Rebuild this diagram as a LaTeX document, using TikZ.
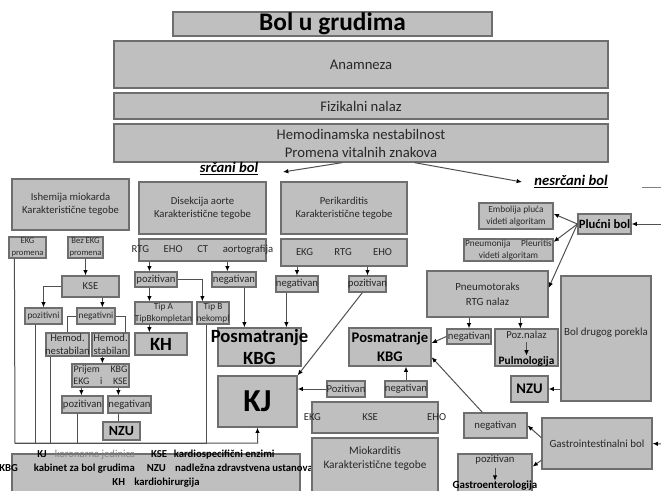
\documentclass[tikz,border=0pt]{standalone}
\usepackage{fontspec}
\setmainfont{Carlito}
\usepackage{tikz}
\usetikzlibrary{arrows.meta,calc,positioning}
\definecolor{boxfill}{RGB}{191,191,191}
\definecolor{boxedge}{RGB}{110,110,110}
\definecolor{linegray}{RGB}{80,80,80}
\definecolor{txtgray}{RGB}{40,40,40}
\tikzset{every picture/.style={line width=0.75pt}}

\begin{document}
\begin{tikzpicture}[x=0.75pt,y=0.75pt,yscale=-1,xscale=1,
  box/.style={draw=boxedge,fill=boxfill,line width=0.9pt,inner sep=0pt,align=center,text=txtgray},
  wh/.style 2 args={minimum width=#1*0.75pt,minimum height=#2*0.75pt},
  txt/.style={inner sep=0pt,align=center,text=txtgray},
  fs/.style={font=\fontsize{7}{9}\selectfont},
  fm/.style={font=\fontsize{8}{9.75}\selectfont},
  fl/.style={font=\fontsize{11}{13.5}\selectfont},
  ln/.style={draw=linegray},
  arr/.style={draw=linegray,-{Latex[length=4pt,width=3.4pt,color=black]}}
]
\useasboundingbox (0,0) rectangle (661,490);

%Shape: Rectangle
\node[box,wh={319}{24},text=black,font=\fontsize{19}{22}\selectfont\bfseries] (title) at (332.5,24) {Bol u grudima};
\node[box,wh={494}{47},fl] (anam) at (361,64.5) {Anamneza};
\node[box,wh={494}{26},fl] (fiz) at (361,106) {Fizikalni nalaz};
\node[box,wh={494}{38},fl] (hemo) at (361,143) {Hemodinamska nestabilnost\\Promena vitalnih znakova};

% Text Node
\node[txt,text=black,font=\fontsize{11}{13}\selectfont\bfseries\itshape] (srcani) at (229,169) {\underline{srčani bol}};
\node[txt,text=black,font=\fontsize{11}{13}\selectfont\bfseries\itshape] (nesrcani) at (571,182) {\underline{nesrčani bol}};

%Shape: Rectangle -- ishemija
\node[box,wh={117}{51},fm] (ishem) at (70.5,204.5) {Ishemija miokarda\\Karakteristične tegobe};
\node[box,wh={37}{21},font=\fontsize{6.5}{8.5}\selectfont] (ekgp) at (27.5,247.5) {EKG\\promena};
\node[box,wh={35}{21},font=\fontsize{6.5}{8.5}\selectfont] (bezekg) at (85.5,247.5) {Bez EKG\\promena};
\node[box,wh={57}{21},fm] (kse) at (90.5,286.5) {KSE};
\node[box,wh={37}{16},fs] (pozni) at (43.5,316) {pozitivni};
\node[box,wh={38}{16},fs] (negni) at (96,316) {negativni};
\node[box,wh={43}{23},fm] (hnest) at (67.5,344.5) {Hemod.\\\makebox[0pt]{nestabilan}};
\node[box,wh={37}{23},fm] (hstab) at (110.5,344.5) {Hemod.\\stabilan};
\node[box,wh={57}{23},font=\fontsize{7.5}{9}\selectfont] (prijem) at (100.5,375.5) {Prijem\hspace{8pt}KBG\\EKG\hspace{8pt}i\hspace{8pt}KSE};
\node[box,wh={41}{17},fm] (pozp) at (82.5,404.5) {pozitivan};
\node[box,wh={43}{17},fm] (negp) at (129.5,404.5) {\makebox[0pt]{negativan}};
\node[box,wh={37}{18},text=black,font=\fontsize{10.5}{12}\selectfont\bfseries] (nzul) at (121.5,431) {NZU};

%Shape: Rectangle -- disekcija
\node[box,wh={127}{52},fm] (disek) at (202.5,208) {Disekcija aorte\\Karakteristične tegobe};
\node[box,wh={127}{22},fm] (dsub) at (202.5,250) {\makebox[0pt]{RTG\hspace{11pt}EHO\hspace{11pt}CT\hspace{11pt}aortografija}};
\node[box,wh={42}{15},fm] (dpoz) at (156,279.5) {pozitivan};
\node[box,wh={44}{15},fm] (dneg) at (234,279.5) {negativan};
\node[box,wh={32}{22},fs] (tipb) at (213,313) {Tip B\\\makebox[0pt]{nekompl}};
\node[box,wh={57}{22},fs] (tipa) at (163.5,313) {Tip A\\\makebox[0pt]{TipBkompletan}};
\node[box,wh={52}{22},text=black,font=\fontsize{14}{16}\selectfont\bfseries] (kh) at (161,344) {KH};
\node[box,wh={83}{38},text=black,font=\fontsize{14}{16.5}\selectfont\bfseries] (posl) at (259.5,347) {\makebox[0pt]{Posmatranje}\\KBG};
\node[box,wh={79}{51},text=black,font=\fontsize{24}{26}\selectfont\bfseries] (kj) at (257.5,401.5) {KJ};

%Shape: Rectangle -- perikarditis
\node[box,wh={126}{52},fm] (perik) at (344,208) {Perikarditis\\Karakteristične tegobe};
\node[box,wh={126}{27},fm] (psub) at (344,252.5) {EKG\hspace{16pt}RTG\hspace{16pt}EHO};
\node[box,wh={42}{16},fm] (pneg) at (297,284) {\makebox[0pt]{negativan}};
\node[box,wh={37}{16},fm] (ppoz) at (367.5,284) {\makebox[0pt]{pozitivan}};
\node[box,wh={82}{38},text=black,font=\fontsize{11}{14}\selectfont\bfseries] (posm) at (390,347) {Posmatranje\\KBG};
\node[box,wh={38}{16},fm] (mpoz) at (346,389) {\makebox[0pt]{Pozitivan}};
\node[box,wh={42}{16},fm] (mneg) at (406,389) {\makebox[0pt]{negativan}};
\node[box,wh={126}{31},fm] (eks) at (375,417.5) {\makebox[0pt]{EKG\hspace{31pt}KSE\hspace{37pt}EHO}};

%Shape: Rectangle -- legenda
\node[box,wh={288}{46}] (legend) at (156,477) {};
\node[txt,text=black,font=\fontsize{8}{10.5}\selectfont\bfseries] (legtxt) at (156,469) {\makebox[0pt]{KJ\hspace{6pt}{\mdseries\color{gray}koronarna jedinica}\hspace{12pt}KSE\hspace{5pt}kardiospecifični enzimi}\\
  \makebox[0pt]{KBG\hspace{12pt}kabinet za bol grudima\hspace{9pt}NZU\hspace{7pt}nadležna zdravstvena ustanova}\\
  \makebox[0pt]{KH\hspace{7pt}kardiohirurgija}};
\node[box,wh={126}{62}] (miok) at (375,469) {};
\node[txt,font=\fontsize{8.5}{10.5}\selectfont] (mioktxt) at (375,459) {Miokarditis\\Karakteristične tegobe};

%Shape: Rectangle -- nesrcani bol
\node[box,wh={53}{20},text=black,font=\fontsize{9.5}{11}\selectfont\bfseries] (plucni) at (604.5,224) {Plućni bol};
\node[box,wh={74}{26},fs] (embol) at (516,216) {Embolija pluća\\videti algoritam};
\node[box,wh={89}{22},fs] (pneum) at (508.5,250) {Pneumonija\hspace{8pt}Pleuritis\\videti algoritam};
\node[box,wh={121}{46},font=\fontsize{8.2}{11}\selectfont] (pntor) at (487.5,294) {Pneumotoraks\\RTG nalaz};
\node[box,wh={90}{125}] (bdp) at (606,338.5) {};
\node[txt,font=\fontsize{8.2}{10}\selectfont] (bdptxt) at (606,333) {Bol drugog porekla};
\node[box,wh={44}{15},fm] (ptneg) at (469,336.5) {\makebox[0pt]{negativan}};
\node[box,wh={63}{37}] (poznal) at (526.5,347.5) {};
\node[txt,fm] (pozt) at (526.5,335) {Poz.nalaz};
\node[txt,text=black,font=\fontsize{8.5}{10}\selectfont\bfseries] (pulmt) at (526.5,361) {Pulmologija};
\node[box,wh={37}{26},text=black,font=\fontsize{11}{13}\selectfont\bfseries] (nzur) at (529.5,389) {NZU};
\node[box,wh={110}{51},font=\fontsize{8.2}{10}\selectfont] (gast) at (597,443.5) {Gastrointestinalni bol};
\node[box,wh={63}{25},fm] (gneg) at (495.5,425.5) {negativan};
\node[box,wh={74}{46}] (gpoz) at (495,477) {};
\node[txt,fm] (gpozt) at (495,460) {pozitivan};
\node[txt,text=black,font=\fontsize{8.2}{10}\selectfont\bfseries] (gastrot) at (495,486) {Gastroenterologija};

%Straight Lines -- grananje
\coordinate (srcArr) at (283,172);
\coordinate (nesArr) at (522,182);
\coordinate (stubA) at (642,187);
\coordinate (stubB) at (661,187);
\draw[arr] ($(hemo.south west)+(229,0)$) -- (srcArr);
\draw[arr] ($(hemo.south west)+(301,0)$) -- (nesArr);
\draw[ln,draw=gray] (stubA) -- (stubB);

%Straight Lines -- ishemija
\draw[arr] (bezekg.south) -- (bezekg.south |- kse.north);
\draw[arr] (kse.west) -| (pozni.north);
\draw[arr] ($(kse.south west)+(41,0)$) -- ($(negni.north west)+(26,0)$);
\draw[ln] (negni.west) -| (hnest.north);
\draw[ln] (negni.east) -| ($(hstab.north east)+(-4,0)$);
\draw[arr] ($(hstab.south west)+(11,0)$) -- ($(prijem.north west)+(31,0)$);
\draw[arr] ($(prijem.south west)+(10,0)$) -- ($(pozp.north west)+(20,0)$);
\draw[arr] ($(prijem.south west)+(47,0)$) -- ($(negp.north west)+(11,0)$);
\draw[ln] ($(negp.south west)+(11,0)$) -- ($(nzul.north west)+(16,0)$);

%Straight Lines -- sabirna linija prema KJ
\coordinate (busL) at (15,443);
\draw[arr] ($(ekgp.south west)+(6,0)$) -- (busL) -| (kj.south);
\draw[ln] ($(pozni.south west)+(11,0)$) |- (busL);
\draw[ln] ($(hnest.south west)+(5,0)$) |- (busL);
\draw[ln] ($(pozp.south west)+(16,0)$) |- (busL);
\draw[ln] ($(tipb.south west)+(10,0)$) |- (busL);

%Straight Lines -- disekcija
\draw[arr] ($(dsub.south west)+(11,0)$) -- ($(dpoz.north west)+(15,0)$);
\draw[arr] ($(dsub.south west)+(89,0)$) -- ($(dneg.north west)+(16,0)$);
\draw[arr] ($(dpoz.south west)+(15,0)$) -- ($(tipa.north west)+(15,0)$);
\draw[arr] (dpoz.east) -| ($(tipb.north west)+(6,0)$);
\draw[arr] ($(tipa.south west)+(15,0)$) -- ($(kh.north west)+(15,0)$);
\draw[arr] ($(dneg.south west)+(33,0)$) -- ($(posl.north west)+(27,0)$);

%Straight Lines -- perikarditis
\draw[arr] (psub.south -| pneg) -- (pneg.north);
\draw[arr] (psub.south -| ppoz) -- (ppoz.north);
\draw[arr] ($(pneg.south west)+(11,0)$) -- ($(posl.north west)+(69,0)$);
\draw[arr] ($(ppoz.south west)+(14,0)$) -- (kj.north east);
\draw[arr] (mpoz.west) -- (mpoz.west -| kj.east);
\draw[arr] (mneg.north) -- (mneg.north |- posm.south);

%Straight Lines -- nesrcani bol
\coordinate (inPluc) at (661,224);
\coordinate (inGast) at (661,444);
\draw[arr] (inPluc) -- (plucni.east);
\draw[arr] (plucni.west) -- ($(embol.north east)!0.42!(embol.south east)$);
\draw[arr] (plucni.west) -- ($(pneum.north east)!0.15!(pneum.south east)$);
\draw[arr] (plucni.west) -- ($(pntor.north east)!0.37!(pntor.south east)$);
\draw[arr] (pntor.south -| ptneg) -- (ptneg.north);
\draw[arr] ($(pntor.south west)+(94,0)$) -- ($(poznal.north west)+(26,0)$);
\draw[arr,shorten <=2pt] (pozt.south) -- (pulmt.north);
\draw[arr] (ptneg.west) -- ($(posm.north east)!0.4!(posm.south east)$);
\draw[arr] (bdp.west |- nzur.east) -- (nzur.east);
\draw[arr] (inGast) -- (gast.east);
\draw[arr] ($(gast.north west)!0.39!(gast.south west)$) -- (gneg.east);
\draw[arr] ($(gast.north west)!0.82!(gast.south west)$) -- ($(gpoz.north east)!0.28!(gpoz.south east)$);
\draw[arr] ($(gneg.north west)+(19,0)$) -- ($(posm.north east)!0.76!(posm.south east)$);
\draw[arr,shorten <=2pt] (gpozt.south) -- (gastrot.north);

\end{tikzpicture}
\end{document}
